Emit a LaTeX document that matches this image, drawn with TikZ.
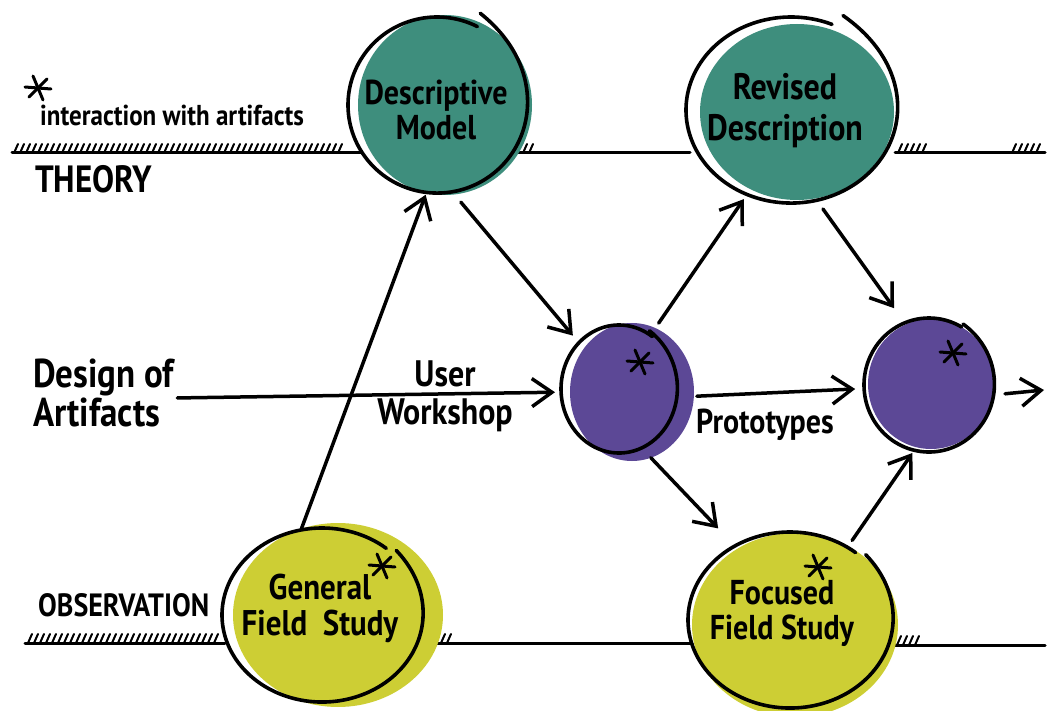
\documentclass[tikz,border=0pt]{standalone}
\usepackage{graphicx}
\usepackage{fontspec}
\setmainfont{PT Sans}
\usetikzlibrary{arrows.meta,shapes.geometric}
\definecolor{tealc}{RGB}{62,142,125}
\definecolor{purpc}{RGB}{92,72,150}
\definecolor{yelc}{RGB}{205,206,52}
\newcommand\sketchring[7]{%
  \draw[ring] plot[domain=#5:#6, samples=120, smooth, variable=\t]
    ({#1+#3*(1+#7*exp(-(\t-(#5))/30))*cos(\t)},
     {#2+#4*(1+#7*exp(-(\t-(#5))/30))*sin(\t)});}
\newcommand\hatchmarks[3]{%
  \pgfmathtruncatemacro\hnext{#2+6}%
  \foreach \hx in {#2,\hnext,...,#3}{\draw[hatchst] (\hx,#1) -- ++(4,-9);}}
\newcommand\astk[2]{%
  \draw[astst] (#1,#2) ++(-13,-1) -- ++(26,2);
  \draw[astst] (#1,#2) ++(-5,-12) -- ++(10,24);
  \draw[astst] (#1,#2) ++(-9,9) -- ++(18,-18);}
\newcommand\tallc[1]{\scalebox{1}[1.15]{\begin{tabular}{@{}c@{}}#1\end{tabular}}}
\newcommand\talll[1]{\scalebox{1}[1.15]{\begin{tabular}{@{}l@{}}#1\end{tabular}}}
\begin{document}
\begin{tikzpicture}[x=1pt,y=-1pt,
  base/.style={line width=3pt, line cap=round},
  hatchst/.style={line width=2pt, line cap=round},
  ring/.style={line width=3.6pt, line cap=round, line join=round},
  astst/.style={line width=3pt, line cap=round},
  blob/.style={ellipse, draw=none, inner sep=0pt, outer sep=0pt},
  arr/.style={line width=3.5pt, line cap=round, -{Straight Barb[length=20pt,width=28pt]}},
  lbl/.style={font={\bfseries\fontsize{30}{31}\selectfont}, align=center, inner sep=0pt},
  side/.style={font={\bfseries\fontsize{35}{31}\selectfont}, align=left, inner sep=0pt, anchor=west}]
\useasboundingbox (0,0) rectangle (1047,711);
% level lines
\draw[base] (12,153) -- (362,153);
\hatchmarks{153}{14}{338}
\draw[base] (515,153) -- (690,153);
\hatchmarks{153}{517}{529}
\draw[base] (895,153) -- (1045,153);
\hatchmarks{153}{898}{922}
\hatchmarks{153}{1012}{1040}
\draw[base] (25,643) -- (225,643);
\hatchmarks{643}{28}{214}
\draw[base] (427,643) -- (692,643);
\hatchmarks{643}{429}{447}
\draw[base] (893,645) -- (1045,645);
\hatchmarks{645}{897}{915}
% filled blobs
\node[blob, fill=tealc, minimum width=174pt, minimum height=180pt] (desc) at (445,105) {};
\node[blob, fill=tealc, minimum width=194pt, minimum height=176pt] (rev) at (797,112) {};
\node[blob, fill=purpc, minimum width=124pt, minimum height=138pt] (p1) at (632,392) {};
\node[blob, fill=purpc, minimum width=126pt, minimum height=130pt] (p2) at (931,384) {};
\node[blob, fill=yelc, minimum width=210pt, minimum height=184pt] (gen) at (338,615) {};
\node[blob, fill=yelc, minimum width=206pt, minimum height=184pt] (foc) at (795,625) {};
% sketched outlines
\sketchring{437}{105}{89}{88}{-65}{297}{0.15}
\sketchring{791}{110}{105}{93}{-64}{293}{0.13}
\sketchring{619}{389}{58}{64}{-60}{305}{0.05}
\sketchring{929}{385}{65}{67}{-60}{300}{0.05}
\sketchring{322}{615}{100}{87}{-45}{310}{0.05}
\sketchring{790}{620}{102}{88}{-45}{310}{0.05}
% labels
\node[lbl] (descl) at (436,115) {\tallc{Descriptive\\Model}};
\node[lbl, font={\bfseries\fontsize{32}{35}\selectfont}] (revl) at (785,112) {\tallc{Revised\\Description}};
\node[lbl, font={\bfseries\fontsize{31}{31}\selectfont}] (genl) at (320,610) {\tallc{General\\Field\enspace Study}};
\node[lbl] (focl) at (782,615) {\tallc{Focused\\Field Study}};
\node[lbl, font={\bfseries\fontsize{32}{33}\selectfont}] (uw) at (445,398) {\tallc{User\\Workshop}};
\node[lbl] (proto) at (765,426) {\tallc{Prototypes}};
\node[side, font={\bfseries\fontsize{25}{26}\selectfont}] (legend) at (40,120) {\talll{interaction with artifacts}};
\node[side, font={\bfseries\fontsize{33}{34}\selectfont}] (theory) at (35,185) {\talll{THEORY}};
\node[side, font={\bfseries\fontsize{28}{30}\selectfont}] (obs) at (38,610) {\talll{OBSERVATION}};
\node[side] (design) at (33,398) {\talll{Design of\\Artifacts}};
% asterisks
\astk{38}{88}
\astk{640}{362}
\astk{953}{353}
\astk{382}{566}
\astk{818}{567}
% connectors
\draw[arr, shorten >=2pt] (gen.113) -- (desc.-102);
\draw[arr, shorten <=10pt, shorten >=17pt] (desc.-84) -- (p1.138);
\draw[arr, shorten <=3pt, shorten >=15pt] (design.east) -- (p1.180);
\draw[arr, shorten <=6pt, shorten >=12pt] (p1.70) -- (rev.-121);
\draw[arr, shorten <=13pt, shorten >=20pt] (rev.-78) -- (p2.113);
\draw[arr, shorten <=3pt, shorten >=13pt] (p1.-4) -- (p2.184);
\draw[arr, shorten >=28pt] (p1.-74) -- (foc.127);
\draw[arr, shorten <=7pt, shorten >=7pt] (foc.56) -- (p2.-103);
\coordinate (outend) at (1044,390);
\draw[arr, shorten <=12pt] (p2.-10) -- (outend);
\end{tikzpicture}
\end{document}
